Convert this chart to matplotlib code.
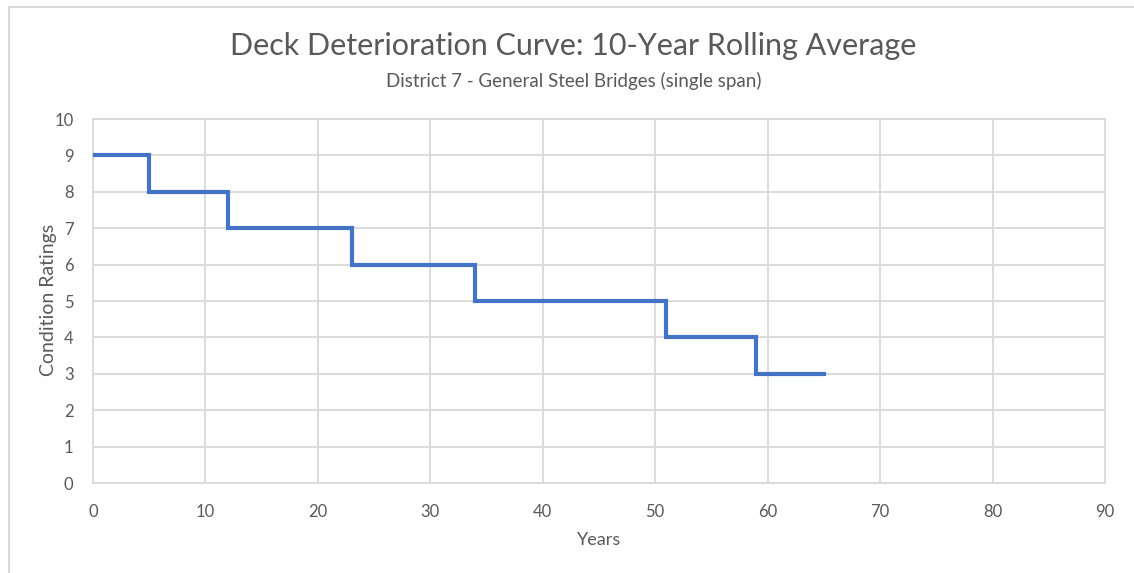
import matplotlib
matplotlib.use("Agg")
import matplotlib.pyplot as plt
from matplotlib.patches import Rectangle

# Condition rating by bridge age (step changes)
years = [0, 5, 12, 23, 34, 51, 59, 65]
ratings = [9, 8, 7, 6, 5, 4, 3, 3]

x_ticks = list(range(0, 91, 10))
y_ticks = list(range(0, 11, 1))

title = "Deck Deterioration Curve: 10-Year Rolling Average"
subtitle = "District 7 - General Steel Bridges (single span)"

plt.rcParams['font.family'] = ['Lato', 'DejaVu Sans']
text_color = "#595959"
grid_color = "#d9d9d9"
line_color = "#4472C4"

W, H = 1134, 573
fig = plt.figure(figsize=(W / 100, H / 100), dpi=100)
fig.patch.set_facecolor("white")

# Chart-area frame (top and left edges visible)
fig.patches.append(Rectangle((9 / W, -0.1), 1.2, 1 - 7 / H + 0.1,
                             transform=fig.transFigure, fill=False,
                             edgecolor=grid_color, linewidth=1.5))

ax = fig.add_axes([93 / W, 1 - 483 / H, (1105 - 93) / W, (483 - 119) / H])
ax.step(years, ratings, where="post", color=line_color, linewidth=3.0,
        solid_joinstyle="miter", zorder=3)

ax.set_xlim(0, 90)
ax.set_ylim(0, 10)
ax.set_xticks(x_ticks)
ax.set_yticks(y_ticks)
ax.grid(True, color=grid_color, linewidth=1.3)
ax.set_axisbelow(True)
for side in ax.spines.values():
    side.set_color(grid_color)
    side.set_linewidth(1.3)
ax.tick_params(length=0, labelsize=12, colors=text_color)
ax.tick_params(axis="x", pad=15)
ax.tick_params(axis="y", pad=14)

ax.set_xlabel("Years", fontsize=13, color=text_color)
ax.xaxis.set_label_coords((599 - 93) / (1105 - 93), -(540 - 483) / (483 - 119))
ax.set_ylabel("Condition Ratings", fontsize=14, color=text_color)
ax.yaxis.set_label_coords(-(93 - 49) / (1105 - 93), (483 - 300) / (483 - 119))
ax.xaxis.label.set_va("center")
ax.yaxis.label.set_va("center")

fig.text(573 / W, 1 - 46 / H, title, ha="center", va="center",
         fontsize=22, color=text_color)
fig.text(574 / W, 1 - 81 / H, subtitle, ha="center", va="center",
         fontsize=13.5, color=text_color)

fig.savefig("out.png", dpi=100, facecolor="white")
